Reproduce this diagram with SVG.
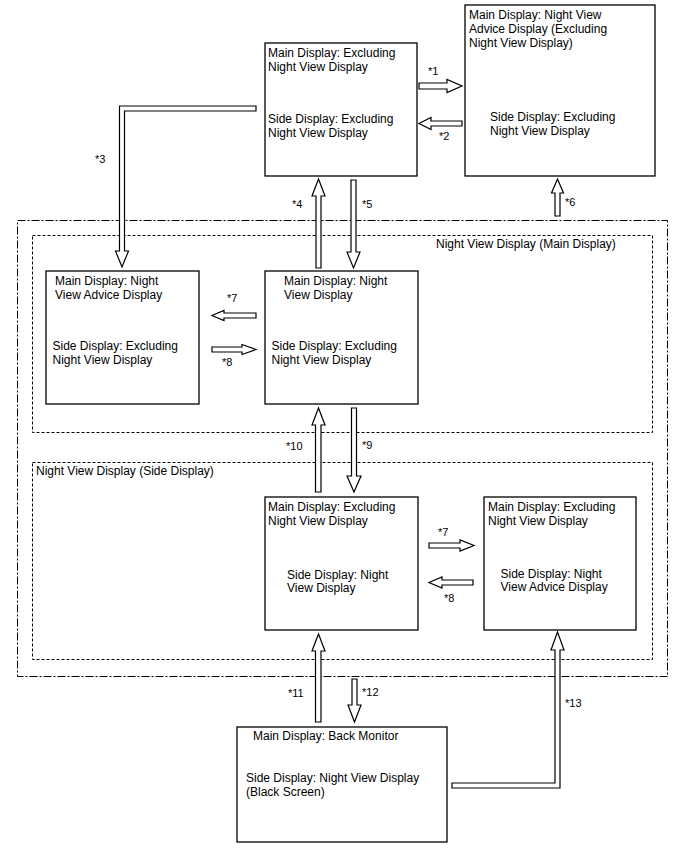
<svg xmlns="http://www.w3.org/2000/svg" width="688" height="852" viewBox="0 0 688 852">
<style>
.bg{fill:#fff}
.box{fill:#fff;stroke:#000;stroke-width:1.3}
.t{font-family:"Liberation Sans",Arial,sans-serif;font-size:12px;fill:#000}
.l{font-family:"Liberation Sans",Arial,sans-serif;font-size:11px;fill:#000}
.ar{fill:#fff;stroke:#000;stroke-width:1.2;stroke-linejoin:miter}
.outer{fill:none;stroke:#000;stroke-width:1;stroke-dasharray:8 2 2 2}
.inner{fill:none;stroke:#000;stroke-width:1;stroke-dasharray:3 2}
</style>
<rect class="bg" x="0" y="0" width="688" height="852"/>
<g id="groups">
<rect class="outer" x="17.5" y="220.5" width="650" height="456"/>
<rect class="inner" x="32.5" y="235.5" width="620" height="197"/>
<rect class="inner" x="32.5" y="462.5" width="620" height="197"/>
<text class="t" x="436" y="248">Night View Display (Main Display)</text>
<text class="t" x="36" y="475">Night View Display (Side Display)</text>
</g>
<g id="connectors">
<!-- *1 right -->
<polygon class="ar" points="419,83 447,83 447,79.5 462,86 447,92.5 447,89 419,89"/>
<!-- *2 left -->
<polygon class="ar" points="462,121 431,121 431,117.5 419,123.5 431,129.5 431,126 462,126"/>
<!-- *3 L -->
<polygon class="ar" points="256,106 119.5,106 119.5,251 115.5,251 122,267 128.5,251 124.5,251 124.5,111 256,111"/>
<!-- *4 up -->
<polygon class="ar" points="316,268 316,196 312,196 318.5,179 325,196 321,196 321,268"/>
<!-- *5 down -->
<polygon class="ar" points="351,180 356,180 356,252 360,252 353.5,268 347,252 351,252"/>
<!-- *6 up -->
<polygon class="ar" points="555,216 555,193 551.5,193 557.5,179 563.5,193 560,193 560,216"/>
<!-- *7 top left -->
<polygon class="ar" points="256,313 224,313 224,310.5 212,315.5 224,320.5 224,318 256,318"/>
<!-- *8 top right -->
<polygon class="ar" points="212,347 242,347 242,344.5 256,349.5 242,354.5 242,352 212,352"/>
<!-- *10 up -->
<polygon class="ar" points="315.5,492 315.5,425 312,425 318.5,408 325,425 321,425 321,492"/>
<!-- *9 down -->
<polygon class="ar" points="351.5,408 356.5,408 356.5,476 361,476 354,492 347,476 351.5,476"/>
<!-- *7 bottom right -->
<polygon class="ar" points="429,543 460,543 460,540 474,545.5 460,551 460,548 429,548"/>
<!-- *8 bottom left -->
<polygon class="ar" points="473,580 442,580 442,577 429,582.5 442,588 442,585 473,585"/>
<!-- *11 up -->
<polygon class="ar" points="315.5,722 315.5,651 312,651 318.5,634 325,651 321,651 321,722"/>
<!-- *12 down -->
<polygon class="ar" points="352,679 357,679 357,705 361,705 354.5,722 348,705 352,705"/>
<!-- *13 L up -->
<polygon class="ar" points="452,783 555,783 555,650 551,650 557.5,632 564,650 560,650 560,788 452,788"/>
<text class="l" x="428" y="75">*1</text>
<text class="l" x="439" y="140">*2</text>
<text class="l" x="95" y="163">*3</text>
<text class="l" x="292" y="208">*4</text>
<text class="l" x="362" y="208">*5</text>
<text class="l" x="565" y="206">*6</text>
<text class="l" x="227" y="302">*7</text>
<text class="l" x="222" y="366">*8</text>
<text class="l" x="362" y="449">*9</text>
<text class="l" x="286" y="450">*10</text>
<text class="l" x="438" y="536">*7</text>
<text class="l" x="444" y="602">*8</text>
<text class="l" x="288" y="697">*11</text>
<text class="l" x="362" y="696">*12</text>
<text class="l" x="565" y="707">*13</text>
</g>
<g id="n-top">
<rect class="box" x="265" y="43" width="152" height="133"/>
<text class="t" x="268" y="57">Main Display: Excluding</text>
<text class="t" x="268" y="71">Night View Display</text>
<text class="t" x="268" y="122.5">Side Display: Excluding</text>
<text class="t" x="268" y="136.5">Night View Display</text>
</g>
<g id="n-topright">
<rect class="box" x="465" y="5" width="190" height="171"/>
<text class="t" x="469" y="18.5">Main Display: Night View</text>
<text class="t" x="469" y="32.5">Advice Display (Excluding</text>
<text class="t" x="469" y="46.5">Night View Display)</text>
<text class="t" x="490" y="120.5">Side Display: Excluding</text>
<text class="t" x="490" y="134.5">Night View Display</text>
</g>
<g id="n-midleft">
<rect class="box" x="46" y="271" width="153" height="133"/>
<text class="t" x="55" y="285">Main Display: Night</text>
<text class="t" x="55" y="299">View Advice Display</text>
<text class="t" x="52.5" y="350">Side Display: Excluding</text>
<text class="t" x="52.5" y="364">Night View Display</text>
</g>
<g id="n-midcenter">
<rect class="box" x="265" y="271" width="153" height="133"/>
<text class="t" x="284" y="285">Main Display: Night</text>
<text class="t" x="284" y="299">View Display</text>
<text class="t" x="271.5" y="350">Side Display: Excluding</text>
<text class="t" x="271.5" y="364">Night View Display</text>
</g>
<g id="n-botcenter">
<rect class="box" x="265" y="497" width="153" height="133"/>
<text class="t" x="268" y="511">Main Display: Excluding</text>
<text class="t" x="268" y="525">Night View Display</text>
<text class="t" x="287" y="578.5">Side Display: Night</text>
<text class="t" x="287" y="592">View Display</text>
</g>
<g id="n-botright">
<rect class="box" x="484" y="497" width="152" height="133"/>
<text class="t" x="488" y="510.5">Main Display: Excluding</text>
<text class="t" x="488" y="524.5">Night View Display</text>
<text class="t" x="500.5" y="577.5">Side Display: Night</text>
<text class="t" x="500.5" y="591">View Advice Display</text>
</g>
<g id="n-bottom">
<rect class="box" x="237" y="727" width="210" height="115"/>
<text class="t" x="253" y="740">Main Display: Back Monitor</text>
<text class="t" x="246" y="782">Side Display: Night View Display</text>
<text class="t" x="246" y="795.5">(Black Screen)</text>
</g>
</svg>
